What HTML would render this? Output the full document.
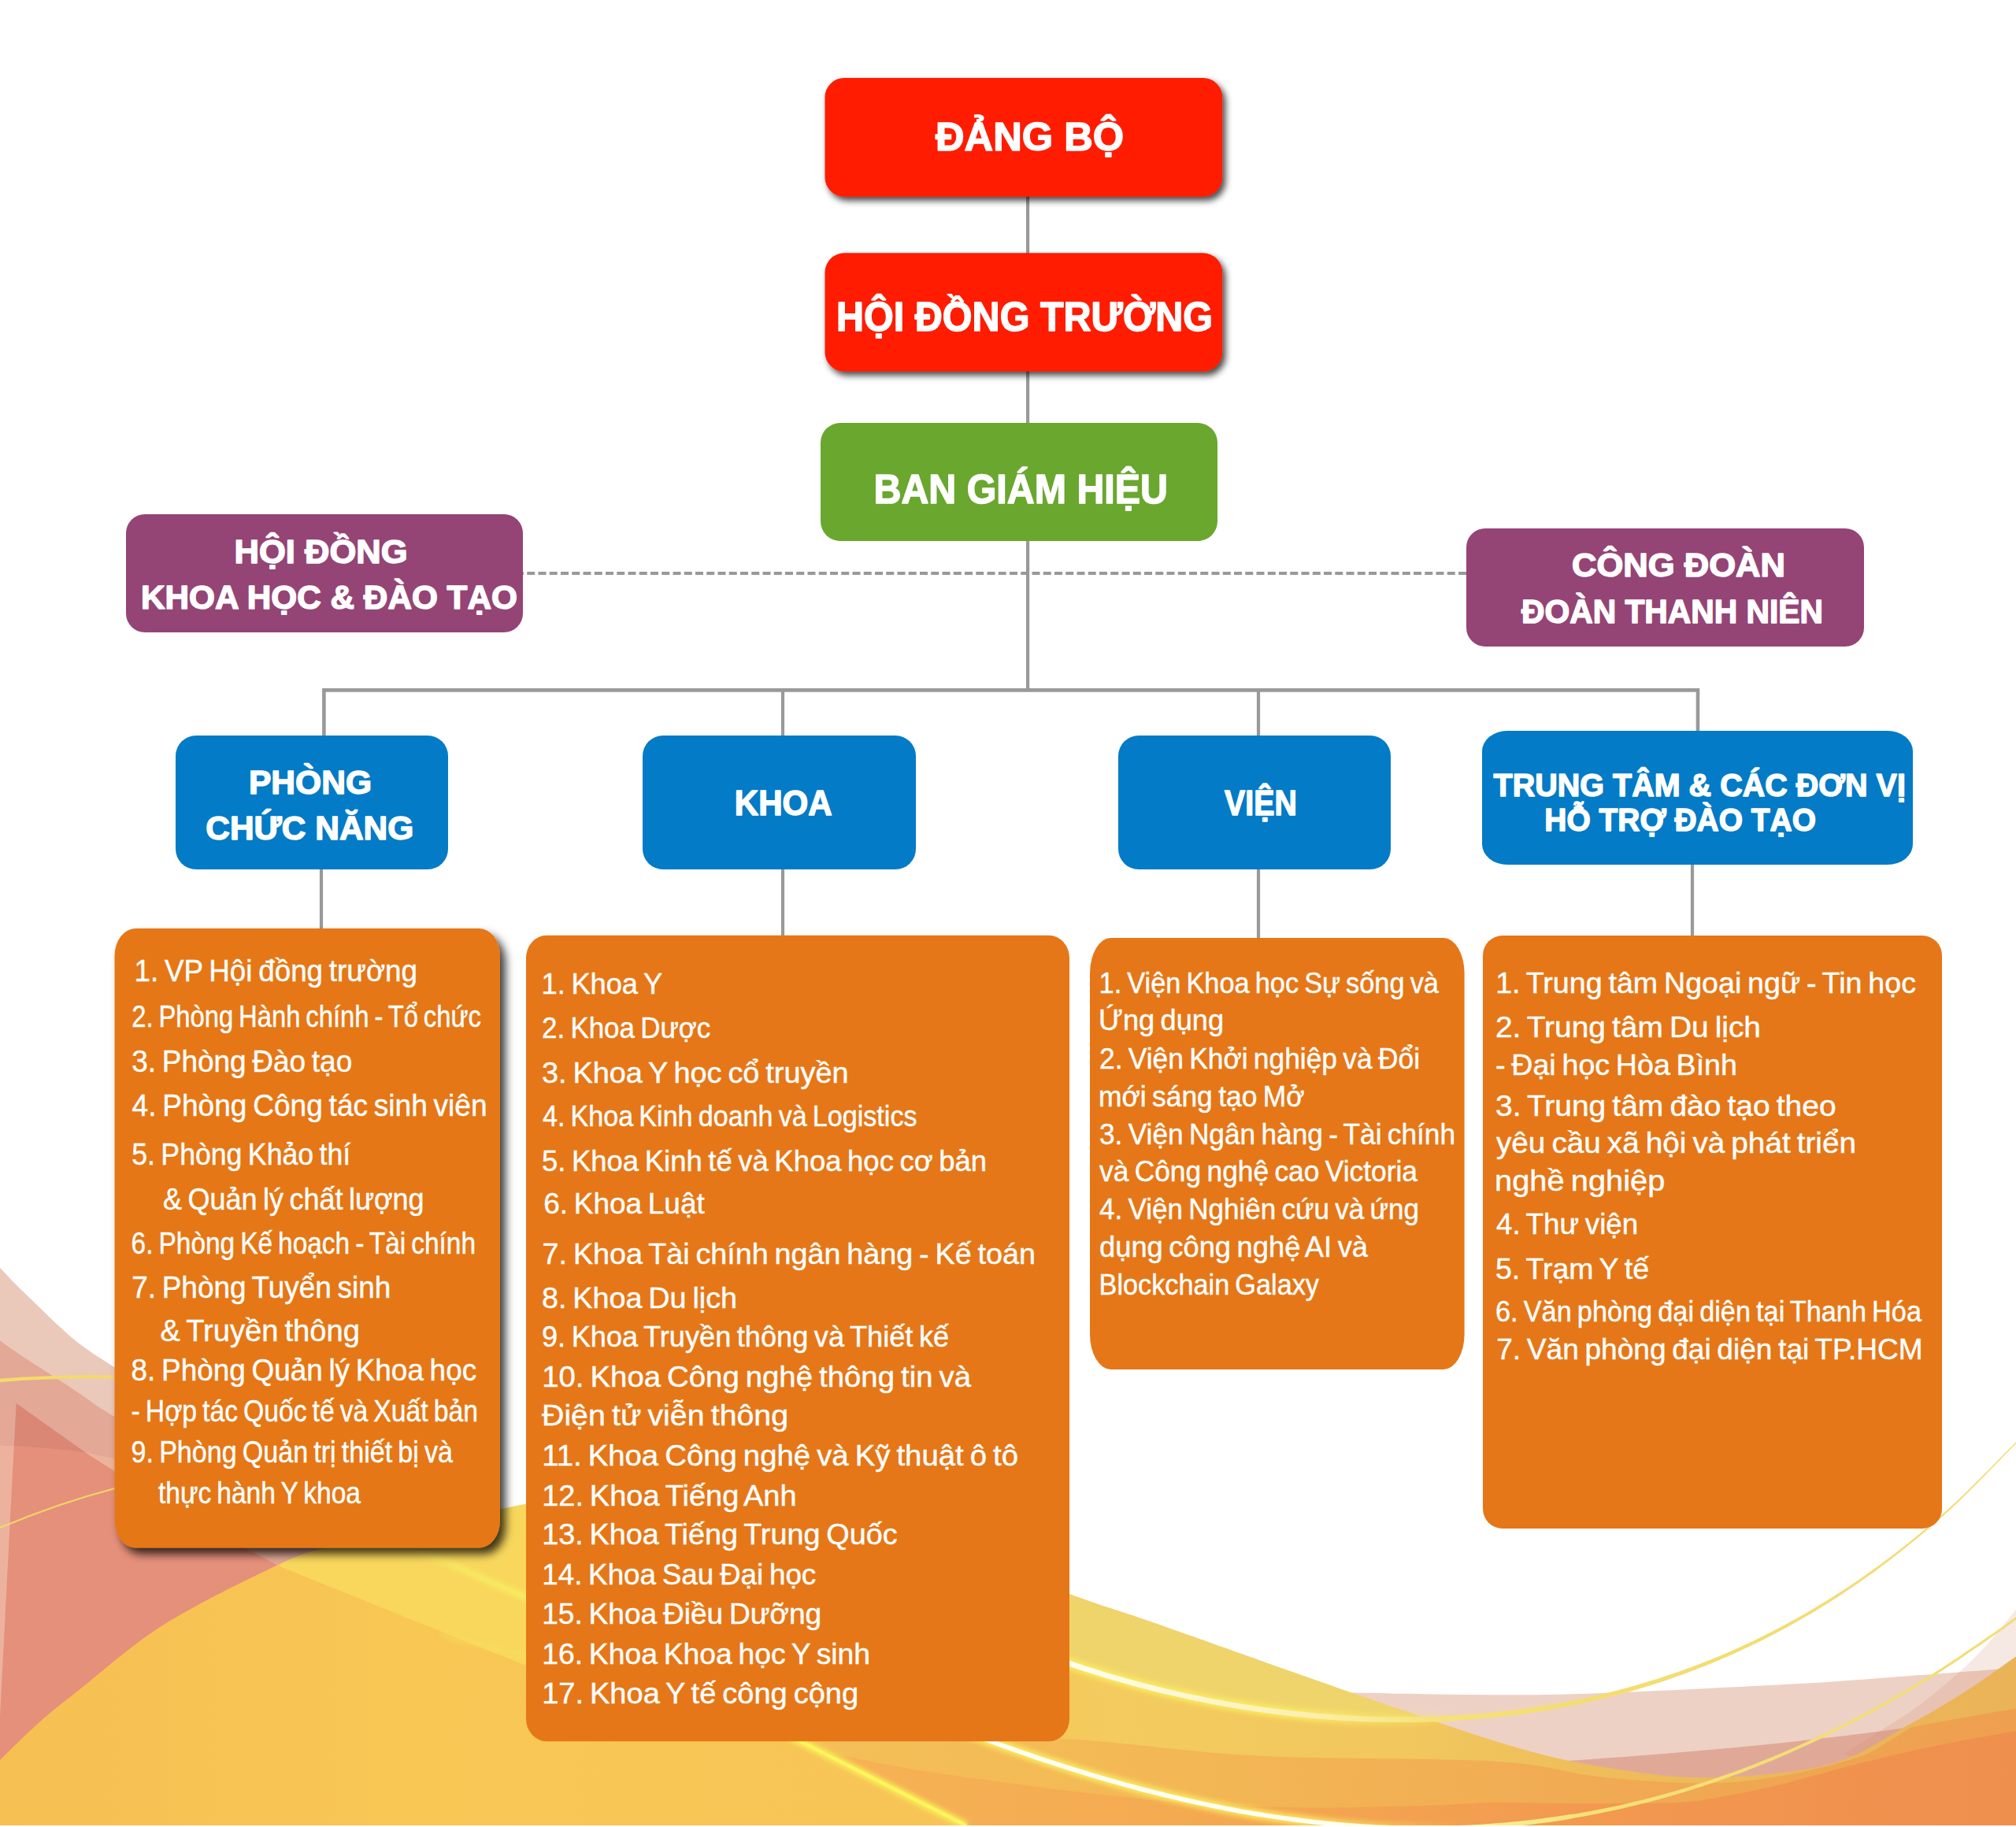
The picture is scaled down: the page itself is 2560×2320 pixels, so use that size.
<!DOCTYPE html>
<html lang="vi"><head><meta charset="utf-8"><title>Sơ đồ tổ chức</title>
<style>html,body{margin:0;padding:0;background:#fff}body{width:2560px;height:2320px;overflow:hidden;font-family:"Liberation Sans",sans-serif}svg{display:block}text{font-family:"Liberation Sans",sans-serif;fill:#fff;white-space:pre}</style>
</head><body>
<svg width="2560" height="2320" viewBox="0 0 2560 2320">
<defs>
<filter id="sh1" x="-10%" y="-20%" width="125%" height="150%"><feDropShadow dx="4" dy="5" stdDeviation="4" flood-color="#000" flood-opacity="0.72"/></filter>
<filter id="sh2" x="-10%" y="-10%" width="125%" height="125%"><feDropShadow dx="7" dy="8" stdDeviation="6" flood-color="#000" flood-opacity="0.76"/></filter>
</defs>
<defs>
<linearGradient id="gY" gradientUnits="userSpaceOnUse" x1="0" y1="0" x2="2560" y2="0"><stop offset="0" stop-color="#F6BF52"/><stop offset="0.2" stop-color="#F8C754"/><stop offset="0.47" stop-color="#F7C556"/><stop offset="0.55" stop-color="#F3CB5E"/><stop offset="0.7" stop-color="#F1C75E"/><stop offset="0.8" stop-color="#EEBC5A"/><stop offset="1" stop-color="#EAB357"/></linearGradient>
<linearGradient id="gM" gradientUnits="userSpaceOnUse" x1="1000" y1="0" x2="2560" y2="0"><stop offset="0" stop-color="#F4C058"/><stop offset="0.3" stop-color="#F3B855"/><stop offset="0.65" stop-color="#F1AB53"/><stop offset="1" stop-color="#EE9F50"/></linearGradient>
<linearGradient id="gO" gradientUnits="userSpaceOnUse" x1="1000" y1="0" x2="2560" y2="0"><stop offset="0" stop-color="#F6B355"/><stop offset="0.35" stop-color="#F4A951"/><stop offset="0.7" stop-color="#F2974F"/><stop offset="1" stop-color="#EF8F4E"/></linearGradient>
<linearGradient id="gL1" gradientUnits="userSpaceOnUse" x1="500" y1="0" x2="2560" y2="0"><stop offset="0.3" stop-color="#FFFFF4"/><stop offset="0.42" stop-color="#FFFEF0"/><stop offset="0.5" stop-color="#FDF6CC"/><stop offset="0.56" stop-color="#FBF0B0"/><stop offset="0.6" stop-color="#F8EA96"/><stop offset="0.64" stop-color="#F5E27A"/><stop offset="0.72" stop-color="#F3DD72"/><stop offset="1" stop-color="#F3DC72"/></linearGradient>
<linearGradient id="gL2" gradientUnits="userSpaceOnUse" x1="500" y1="0" x2="2560" y2="0"><stop offset="0.3" stop-color="#FFFFF8"/><stop offset="0.58" stop-color="#FFFEF0"/><stop offset="0.68" stop-color="#F8EE90"/><stop offset="0.74" stop-color="#F4E076"/><stop offset="1" stop-color="#F3DC72"/></linearGradient>
<linearGradient id="gG" gradientUnits="userSpaceOnUse" x1="500" y1="0" x2="2560" y2="0"><stop offset="0.3" stop-color="#FCF060" stop-opacity="0.95"/><stop offset="0.56" stop-color="#FCEE60" stop-opacity="0.9"/><stop offset="0.66" stop-color="#FCEE60" stop-opacity="0"/></linearGradient>
<linearGradient id="gS1" gradientUnits="userSpaceOnUse" x1="520" y1="0" x2="680" y2="0"><stop offset="0" stop-color="#F7EE62" stop-opacity="0"/><stop offset="0.45" stop-color="#F7EE62" stop-opacity="0.8"/><stop offset="1" stop-color="#F8F060" stop-opacity="1"/></linearGradient>
<filter id="bl3" x="-5%" y="-50%" width="110%" height="200%"><feGaussianBlur stdDeviation="3"/></filter>
</defs>
<g id="bg">
<path d="M0.0 1610.0C4.2 1614.3 16.5 1627.5 25.0 1636.0C33.5 1644.5 42.5 1652.8 51.0 1661.0C59.5 1669.2 67.5 1677.3 76.0 1685.0C84.5 1692.7 90.3 1698.5 101.8 1707.0C113.3 1715.5 118.6 1719.2 145.0 1736.0C171.4 1752.8 214.2 1780.7 260.0 1808.0C305.8 1835.3 356.7 1866.3 420.0 1900.0C483.3 1933.7 603.3 1991.7 640.0 2010.0L640.0 2318L0.0 2318Z" fill="#EAC8BA"/>
<path d="M0.0 1702.5C5.7 1706.4 22.7 1718.5 34.0 1726.0C45.3 1733.5 56.0 1740.0 68.0 1747.8C80.0 1755.6 93.2 1764.5 106.0 1773.0C118.8 1781.5 112.7 1779.2 145.0 1798.7C177.3 1818.2 240.8 1857.3 300.0 1890.0C359.2 1922.7 466.7 1977.5 500.0 1995.0L500.0 2318L0.0 2318Z" fill="#E3A896"/>
<path d="M0 1835L68 1840L108.6 1844.5L145 1868L312 1966L355 1989L700 2200L0 2320Z" fill="#E5907A"/>
<path d="M20.7 1782L84.8 1827.5L108.6 1844.5L68 1840L17.8 1836.3Z" fill="#DB8776"/>
<path d="M0 1835L17.8 1836.3L14.4 1900L0 2180Z" fill="#ECB29E"/>
<path d="M108.6 1844.5L146 1852L146 1868.6Z" fill="#EDB29B"/>
<path d="M0 1753C40 1749.5 85 1747.6 146 1748.6" stroke="#F3DB6C" stroke-width="4.4" fill="none"/>
<path d="M0 1940C50 1919 100 1902 146 1890" stroke="#F3D666" stroke-width="2.2" fill="none"/>
<path d="M1700.0 2149.0C1743.3 2149.5 1867.2 2153.6 1960.0 2152.0C2052.8 2150.4 2183.7 2143.2 2257.0 2139.5C2330.3 2135.8 2349.5 2133.6 2400.0 2130.0C2450.5 2126.4 2533.3 2120.0 2560.0 2118.0L2560.0 2318L1700.0 2318Z" fill="#EED1C5"/>
<path d="M1960 2238Q2250 2219 2430 2192.5L2560 2176L2560 2320L1960 2320Z" fill="#E0A997"/>
<path d="M2560.0 2044.0C2554.2 2050.9 2537.7 2072.3 2525.5 2085.7C2513.3 2099.1 2501.7 2111.0 2486.8 2124.4C2471.9 2137.8 2450.5 2155.1 2436.0 2166.0C2421.5 2176.9 2416.0 2179.7 2400.0 2190.0C2384.0 2200.3 2350.0 2221.7 2340.0 2228.0L2560 2260Z" fill="#D48C70" opacity="0.2"/>
<path d="M0.0 2235.0C8.3 2227.0 32.7 2202.3 50.0 2187.0C67.3 2171.7 77.7 2163.7 104.0 2143.0C130.3 2122.3 167.5 2088.5 208.0 2063.0C248.5 2037.5 312.2 2006.5 347.0 1990.0C381.8 1973.5 384.7 1973.2 417.0 1964.0C449.3 1954.8 499.3 1944.0 541.0 1935.0C582.7 1926.0 623.8 1919.2 667.0 1910.0C710.2 1900.8 760.8 1887.0 800.0 1880.0C839.2 1873.0 867.0 1864.7 902.0 1868.0C937.0 1871.3 934.2 1874.0 1010.0 1900.0C1085.8 1926.0 1281.5 1997.3 1357.0 2024.0C1432.5 2050.7 1403.7 2039.3 1463.0 2060.0C1522.3 2080.7 1635.3 2121.7 1713.0 2148.4C1790.7 2175.1 1870.7 2203.4 1929.0 2220.0C1987.3 2236.6 2021.5 2241.8 2063.0 2248.0C2104.5 2254.2 2134.3 2258.3 2178.0 2257.0C2221.7 2255.7 2284.0 2251.2 2325.0 2240.0C2366.0 2228.8 2395.6 2205.3 2424.0 2190.0C2452.4 2174.7 2473.0 2162.4 2495.7 2148.0C2518.4 2133.6 2549.3 2111.0 2560.0 2103.6L2560.0 2318L0.0 2318Z" fill="url(#gY)"/>
<clipPath id="cY"><path d="M0.0 2235.0C8.3 2227.0 32.7 2202.3 50.0 2187.0C67.3 2171.7 77.7 2163.7 104.0 2143.0C130.3 2122.3 167.5 2088.5 208.0 2063.0C248.5 2037.5 312.2 2006.5 347.0 1990.0C381.8 1973.5 384.7 1973.2 417.0 1964.0C449.3 1954.8 499.3 1944.0 541.0 1935.0C582.7 1926.0 623.8 1919.2 667.0 1910.0C710.2 1900.8 760.8 1887.0 800.0 1880.0C839.2 1873.0 867.0 1864.7 902.0 1868.0C937.0 1871.3 934.2 1874.0 1010.0 1900.0C1085.8 1926.0 1281.5 1997.3 1357.0 2024.0C1432.5 2050.7 1403.7 2039.3 1463.0 2060.0C1522.3 2080.7 1635.3 2121.7 1713.0 2148.4C1790.7 2175.1 1870.7 2203.4 1929.0 2220.0C1987.3 2236.6 2021.5 2241.8 2063.0 2248.0C2104.5 2254.2 2134.3 2258.3 2178.0 2257.0C2221.7 2255.7 2284.0 2251.2 2325.0 2240.0C2366.0 2228.8 2395.6 2205.3 2424.0 2190.0C2452.4 2174.7 2473.0 2162.4 2495.7 2148.0C2518.4 2133.6 2549.3 2111.0 2560.0 2103.6L2560.0 2318L0.0 2318Z"/></clipPath>
<clipPath id="cS"><path d="M1000 2203L1227 2318L2560 2318L2560 1800L1000 1800Z"/></clipPath>
<g clip-path="url(#cY)">
<path d="M355 1989L700 2128L700 1850L400 1900Z" fill="#F8D75C"/>
<path d="M1300 1990L1930 1990L1930 2178L1920.0 2175.1L1840.0 2182.1L1760.0 2183.5L1680.0 2179.6L1600.0 2170.7L1520.0 2156.6L1440.0 2137.5L1360.0 2113.0L1300 2100Z" fill="#EFD46B"/>
<g clip-path="url(#cS)"><path d="M1000.0 2190.0C1058.5 2193.0 1251.5 2201.2 1351.0 2207.8C1450.5 2214.4 1505.5 2224.8 1597.0 2229.6C1688.5 2234.4 1827.8 2232.3 1900.0 2236.7C1972.2 2241.1 1986.3 2251.4 2030.0 2256.0C2073.7 2260.6 2123.7 2264.6 2162.0 2264.5C2200.3 2264.4 2227.2 2261.0 2260.0 2255.6C2292.8 2250.2 2334.3 2239.9 2358.5 2231.8C2382.7 2223.7 2393.5 2213.5 2405.0 2207.0C2416.5 2200.5 2423.8 2195.3 2427.5 2193.0L2560 2169.4L2560 2318L1000 2318Z" fill="url(#gM)"/>
<path d="M1000.0 2215.0C1012.0 2217.5 1038.7 2223.7 1072.0 2230.0C1105.3 2236.3 1139.0 2244.2 1200.0 2253.0C1261.0 2261.8 1365.3 2276.0 1438.0 2283.0C1510.7 2290.0 1575.7 2293.3 1636.0 2295.0C1696.3 2296.7 1756.0 2294.0 1800.0 2293.0C1844.0 2292.0 1866.7 2289.5 1900.0 2289.0C1933.3 2288.5 1961.8 2290.0 2000.0 2290.0C2038.2 2290.0 2095.7 2290.8 2129.0 2289.0C2162.3 2287.2 2178.2 2282.8 2200.0 2279.0C2221.8 2275.2 2233.6 2272.8 2260.0 2266.3C2286.4 2259.8 2325.7 2248.2 2358.5 2240.0C2391.3 2231.8 2423.4 2224.0 2457.0 2217.0C2490.6 2210.0 2542.8 2201.2 2560.0 2198.0L2560.0 2318L1000.0 2318Z" fill="url(#gO)"/></g>
<path d="M1000 2203L1227 2318" stroke="#FBF25A" stroke-width="9" fill="none" filter="url(#bl3)"/>
<path d="M1010 2208L1227 2318" stroke="#FCF75C" stroke-width="4" fill="none"/>
<path d="M520 1964L690 2038" stroke="url(#gS1)" stroke-width="8" fill="none" filter="url(#bl3)"/>
<path d="M560 2076L690 2108" stroke="#F9E060" stroke-opacity="0.5" stroke-width="6" fill="none" filter="url(#bl3)"/>
</g>
<path d="M1277.5 2089.4L1281.4 2090.8L1286.2 2092.7L1291.9 2094.9L1298.2 2097.4L1305.2 2100.0L1312.5 2102.9L1320.2 2105.8L1327.9 2108.7L1335.7 2111.7L1343.4 2114.5L1350.8 2117.1L1357.8 2119.5L1364.5 2121.8L1371.2 2124.0L1377.9 2126.2L1384.6 2128.4L1391.3 2130.5L1398.0 2132.5L1404.7 2134.6L1411.4 2136.5L1418.1 2138.5L1424.8 2140.4L1431.5 2142.3L1438.2 2144.1L1444.9 2145.9L1451.6 2147.7L1458.3 2149.4L1465.0 2151.1L1471.7 2152.8L1478.4 2154.4L1485.1 2156.0L1491.8 2157.5L1498.5 2159.1L1505.2 2160.5L1511.9 2162.0L1518.6 2163.4L1525.3 2164.7L1532.0 2166.1L1538.7 2167.4L1545.4 2168.6L1552.1 2169.9L1558.8 2171.1L1565.5 2172.2L1572.2 2173.3L1578.9 2174.4L1585.6 2175.5L1592.3 2176.5L1599.0 2177.5L1605.7 2178.4L1612.4 2179.3L1619.1 2180.2L1625.8 2181.1L1632.5 2181.9L1639.2 2182.6L1645.9 2183.4L1652.6 2184.1L1659.3 2184.7L1666.0 2185.4L1672.7 2186.0L1679.4 2186.5L1686.1 2187.0L1692.8 2187.5L1699.6 2188.0L1706.3 2188.4L1713.0 2188.8L1719.7 2189.1L1726.4 2189.4L1733.1 2189.7L1739.8 2190.0L1746.5 2190.2L1753.2 2190.3L1759.9 2190.4L1766.6 2190.5L1773.3 2190.6L1780.0 2190.6L1786.7 2190.6L1793.4 2190.5L1800.1 2190.4L1806.8 2190.3L1813.5 2190.1L1820.2 2189.9L1826.9 2189.7L1833.7 2189.4L1840.4 2189.0L1847.1 2188.7L1853.8 2188.2L1860.5 2187.8L1867.2 2187.3L1873.9 2186.8L1880.6 2186.2L1887.3 2185.6L1894.0 2185.0L1900.7 2184.3L1907.4 2183.6L1914.2 2182.8L1920.9 2182.0L1927.6 2181.1L1934.3 2180.2L1941.0 2179.2L1947.7 2178.3L1954.4 2177.2L1961.1 2176.0L1967.8 2174.9L1974.5 2173.7L1981.2 2172.4L1987.9 2171.1L1994.6 2169.8L2001.3 2168.4L2008.0 2167.0L2014.7 2165.5L2021.4 2164.0L2028.1 2162.4L2034.8 2160.8L2041.5 2159.2L2048.2 2157.5L2054.9 2155.7L2061.6 2153.9L2068.4 2152.0L2075.1 2150.1L2081.8 2148.1L2088.5 2146.1L2095.2 2144.0L2101.9 2141.9L2108.6 2139.7L2115.3 2137.5L2122.0 2135.3L2128.7 2132.9L2135.4 2130.5L2142.1 2128.1L2148.8 2125.6L2155.5 2123.0L2162.2 2120.4L2168.8 2117.7L2175.5 2115.0L2182.2 2112.2L2188.9 2109.3L2195.6 2106.4L2202.3 2103.4L2209.0 2100.4L2215.7 2097.3L2222.4 2094.2L2229.1 2090.9L2235.8 2087.7L2242.5 2084.3L2249.2 2080.9L2255.9 2077.4L2262.6 2073.8L2269.3 2070.2L2275.9 2066.6L2282.6 2062.8L2289.3 2059.0L2296.0 2055.1L2302.7 2051.2L2309.4 2047.2L2316.1 2043.1L2322.8 2038.9L2329.5 2034.6L2336.1 2030.3L2342.8 2025.9L2349.5 2021.5L2356.2 2016.9L2362.9 2012.3L2369.5 2007.7L2376.2 2002.9L2382.9 1998.1L2389.6 1993.1L2396.3 1988.1L2403.0 1983.0L2409.6 1977.8L2416.3 1972.6L2423.0 1967.3L2429.7 1961.8L2436.3 1956.4L2443.0 1950.8L2449.7 1945.1L2456.4 1939.4L2463.0 1933.5L2469.7 1927.6L2476.4 1921.6L2483.1 1915.4L2490.0 1908.9L2497.4 1901.8L2505.0 1894.3L2512.7 1886.6L2520.4 1878.8L2528.0 1871.0L2535.3 1863.5L2542.2 1856.4L2548.5 1849.8L2554.2 1843.9L2559.1 1838.9L2563.0 1834.9L2565.9 1832.0L2567.9 1830.0L2569.0 1828.8L2569.6 1828.2L2563.6 1822.3L2563.1 1822.8L2562.3 1823.6L2561.4 1824.4L2560.5 1825.3L2559.7 1826.1L2559.2 1826.6L2559.1 1826.7L2564.9 1832.8L2565.1 1832.6L2565.6 1832.1L2566.4 1831.3L2567.3 1830.4L2568.2 1829.6L2568.9 1828.8L2569.3 1828.5L2563.4 1822.5L2563.0 1822.9L2561.9 1824.1L2559.9 1826.1L2557.0 1829.0L2553.1 1833.0L2548.1 1838.0L2542.4 1843.8L2536.0 1850.4L2529.1 1857.5L2521.8 1864.9L2514.2 1872.6L2506.4 1880.3L2498.7 1888.0L2491.1 1895.4L2483.8 1902.4L2476.9 1908.8L2470.3 1914.8L2463.6 1920.7L2457.0 1926.6L2450.3 1932.3L2443.6 1938.0L2437.0 1943.6L2430.3 1949.0L2423.7 1954.4L2417.0 1959.8L2410.4 1965.0L2403.7 1970.2L2397.0 1975.3L2390.4 1980.3L2383.7 1985.2L2377.1 1990.0L2370.4 1994.8L2363.8 1999.4L2357.1 2004.0L2350.5 2008.5L2343.8 2013.0L2337.2 2017.3L2330.5 2021.6L2323.9 2025.9L2317.2 2030.0L2310.6 2034.1L2303.9 2038.1L2297.3 2042.1L2290.7 2045.9L2284.0 2049.7L2277.4 2053.4L2270.7 2057.1L2264.1 2060.6L2257.4 2064.2L2250.8 2067.6L2244.1 2071.0L2237.5 2074.4L2230.9 2077.6L2224.2 2080.8L2217.6 2084.0L2211.0 2087.0L2204.3 2090.0L2197.7 2093.0L2191.0 2095.8L2184.4 2098.7L2177.8 2101.4L2171.1 2104.1L2164.5 2106.8L2157.8 2109.4L2151.2 2111.9L2144.6 2114.4L2137.9 2116.8L2131.3 2119.2L2124.7 2121.5L2118.0 2123.8L2111.4 2125.9L2104.8 2128.1L2098.1 2130.2L2091.5 2132.2L2084.9 2134.2L2078.2 2136.2L2071.6 2138.1L2065.0 2139.9L2058.4 2141.7L2051.7 2143.4L2045.1 2145.1L2038.5 2146.7L2031.8 2148.3L2025.2 2149.8L2018.6 2151.3L2011.9 2152.8L2005.3 2154.2L1998.7 2155.5L1992.0 2156.8L1985.4 2158.1L1978.8 2159.3L1972.2 2160.5L1965.5 2161.6L1958.9 2162.7L1952.3 2163.6L1945.6 2164.6L1939.0 2165.6L1932.4 2166.5L1925.8 2167.4L1919.1 2168.3L1912.5 2169.1L1905.9 2169.8L1899.3 2170.6L1892.6 2171.2L1886.0 2171.9L1879.4 2172.5L1872.8 2173.0L1866.1 2173.6L1859.5 2174.0L1852.9 2174.5L1846.3 2174.9L1839.6 2175.2L1833.0 2175.6L1826.4 2175.9L1819.8 2176.1L1813.1 2176.3L1806.5 2176.5L1799.9 2176.6L1793.3 2176.7L1786.6 2176.8L1780.0 2176.8L1773.4 2176.8L1766.7 2176.7L1760.1 2176.6L1753.5 2176.5L1746.9 2176.4L1740.2 2176.2L1733.6 2175.9L1727.0 2175.7L1720.3 2175.4L1713.7 2175.0L1707.1 2174.6L1700.4 2174.2L1693.8 2173.8L1687.2 2173.3L1680.6 2172.8L1673.9 2172.2L1667.3 2171.6L1660.7 2171.0L1654.0 2170.3L1647.4 2169.7L1640.8 2168.9L1634.1 2168.2L1627.5 2167.4L1620.9 2166.5L1614.2 2165.7L1607.6 2164.8L1601.0 2163.8L1594.4 2162.8L1587.7 2161.8L1581.1 2160.8L1574.5 2159.7L1567.8 2158.6L1561.2 2157.5L1554.6 2156.3L1547.9 2155.1L1541.3 2153.8L1534.7 2152.5L1528.0 2151.2L1521.4 2149.9L1514.8 2148.5L1508.1 2147.0L1501.5 2145.6L1494.9 2144.1L1488.2 2142.6L1481.6 2141.0L1475.0 2139.4L1468.3 2137.7L1461.7 2136.1L1455.1 2134.4L1448.4 2132.6L1441.8 2130.8L1435.2 2129.0L1428.5 2127.1L1421.9 2125.2L1415.3 2123.3L1408.6 2121.3L1402.0 2119.3L1395.4 2117.3L1388.8 2115.2L1382.1 2113.1L1375.5 2110.9L1368.9 2108.7L1362.2 2106.5L1355.4 2104.1L1348.1 2101.5L1340.5 2098.7L1332.8 2095.8L1325.1 2092.9L1317.5 2090.0L1310.1 2087.2L1303.2 2084.5L1296.9 2082.0L1291.2 2079.8L1286.3 2077.9L1282.5 2076.5Z" fill="url(#gG)" filter="url(#bl3)"/>
<path d="M1278.8 2086.1L1282.6 2087.6L1287.5 2089.4L1293.1 2091.6L1299.5 2094.1L1306.4 2096.8L1313.8 2099.6L1321.4 2102.5L1329.2 2105.5L1336.9 2108.4L1344.6 2111.2L1351.9 2113.8L1358.9 2116.2L1365.6 2118.5L1372.3 2120.7L1379.0 2122.9L1385.6 2125.0L1392.3 2127.1L1399.0 2129.2L1405.7 2131.2L1412.4 2133.2L1419.1 2135.1L1425.7 2137.0L1432.4 2138.9L1439.1 2140.8L1445.8 2142.6L1452.5 2144.3L1459.2 2146.0L1465.8 2147.7L1472.5 2149.4L1479.2 2151.0L1485.9 2152.6L1492.6 2154.1L1499.3 2155.6L1505.9 2157.1L1512.6 2158.5L1519.3 2159.9L1526.0 2161.3L1532.7 2162.6L1539.4 2163.9L1546.0 2165.2L1552.7 2166.4L1559.4 2167.6L1566.1 2168.8L1572.8 2169.9L1579.5 2171.0L1586.1 2172.0L1592.8 2173.0L1599.5 2174.0L1606.2 2175.0L1612.9 2175.9L1619.6 2176.7L1626.3 2177.6L1632.9 2178.4L1639.6 2179.2L1646.3 2179.9L1653.0 2180.6L1659.7 2181.3L1666.4 2181.9L1673.0 2182.5L1679.7 2183.0L1686.4 2183.6L1693.1 2184.0L1699.8 2184.5L1706.5 2184.9L1713.1 2185.3L1719.8 2185.6L1726.5 2185.9L1733.2 2186.2L1739.9 2186.5L1746.6 2186.7L1753.3 2186.8L1759.9 2186.9L1766.6 2187.0L1773.3 2187.1L1780.0 2187.1L1786.7 2187.1L1793.4 2187.0L1800.1 2186.9L1806.7 2186.8L1813.4 2186.6L1820.1 2186.4L1826.8 2186.2L1833.5 2185.9L1840.2 2185.5L1846.9 2185.2L1853.5 2184.8L1860.2 2184.3L1866.9 2183.8L1873.6 2183.3L1880.3 2182.7L1887.0 2182.1L1893.7 2181.5L1900.4 2180.8L1907.0 2180.1L1913.7 2179.3L1920.4 2178.5L1927.1 2177.6L1933.8 2176.7L1940.5 2175.8L1947.2 2174.8L1953.9 2173.8L1960.5 2172.5L1967.2 2171.4L1973.9 2170.2L1980.6 2169.0L1987.3 2167.7L1993.9 2166.4L2000.6 2165.0L2007.3 2163.6L2014.0 2162.1L2020.7 2160.6L2027.3 2159.0L2034.0 2157.4L2040.7 2155.8L2047.4 2154.1L2054.1 2152.3L2060.7 2150.5L2067.4 2148.7L2074.1 2146.7L2080.8 2144.8L2087.4 2142.8L2094.1 2140.7L2100.8 2138.6L2107.5 2136.4L2114.2 2134.2L2120.8 2131.9L2127.5 2129.6L2134.2 2127.2L2140.9 2124.8L2147.5 2122.3L2154.2 2119.7L2160.9 2117.1L2167.5 2114.4L2174.2 2111.7L2180.9 2108.9L2187.6 2106.1L2194.2 2103.2L2200.9 2100.2L2207.6 2097.2L2214.2 2094.1L2220.9 2091.0L2227.6 2087.8L2234.3 2084.5L2240.9 2081.2L2247.6 2077.8L2254.3 2074.3L2260.9 2070.8L2267.6 2067.2L2274.3 2063.5L2280.9 2059.8L2287.6 2056.0L2294.3 2052.1L2300.9 2048.2L2307.6 2044.2L2314.2 2040.1L2320.9 2035.9L2327.6 2031.7L2334.2 2027.4L2340.9 2023.0L2347.6 2018.6L2354.2 2014.0L2360.9 2009.5L2367.5 2004.8L2374.2 2000.0L2380.9 1995.2L2387.5 1990.3L2394.2 1985.3L2400.8 1980.2L2407.5 1975.1L2414.2 1969.8L2420.8 1964.5L2427.5 1959.1L2434.1 1953.7L2440.8 1948.1L2447.4 1942.5L2454.1 1936.7L2460.7 1930.9L2467.4 1925.0L2474.1 1919.0L2480.7 1912.9L2487.6 1906.4L2494.9 1899.3L2502.5 1891.8L2510.2 1884.1L2517.9 1876.3L2525.5 1868.6L2532.8 1861.0L2539.7 1853.9L2546.0 1847.3L2551.7 1841.4L2556.6 1836.4L2560.5 1832.4L2563.4 1829.5L2565.4 1827.5L2566.5 1826.3L2567.0 1825.8L2566.0 1824.9L2565.5 1825.3L2564.8 1826.1L2563.9 1826.9L2563.0 1827.8L2562.2 1828.6L2561.7 1829.1L2561.5 1829.2L2562.5 1830.3L2562.6 1830.1L2563.2 1829.6L2564.0 1828.8L2564.9 1827.9L2565.7 1827.1L2566.5 1826.3L2566.9 1825.9L2566.0 1824.9L2565.5 1825.4L2564.4 1826.5L2562.4 1828.5L2559.5 1831.4L2555.6 1835.4L2550.7 1840.4L2544.9 1846.3L2538.5 1852.8L2531.6 1859.9L2524.3 1867.4L2516.7 1875.1L2508.9 1882.8L2501.2 1890.5L2493.6 1897.9L2486.2 1904.9L2479.3 1911.3L2472.6 1917.4L2465.9 1923.3L2459.3 1929.2L2452.6 1935.0L2445.9 1940.7L2439.2 1946.2L2432.5 1951.7L2425.9 1957.2L2419.2 1962.5L2412.5 1967.8L2405.8 1972.9L2399.2 1978.0L2392.5 1983.1L2385.8 1988.0L2379.1 1992.8L2372.5 1997.6L2365.8 2002.3L2359.1 2006.9L2352.4 2011.4L2345.8 2015.9L2339.1 2020.3L2332.4 2024.6L2325.8 2028.8L2319.1 2033.0L2312.4 2037.1L2305.7 2041.1L2299.1 2045.1L2292.4 2048.9L2285.7 2052.7L2279.1 2056.5L2272.4 2060.1L2265.7 2063.7L2259.1 2067.3L2252.4 2070.7L2245.7 2074.1L2239.1 2077.5L2232.4 2080.8L2225.7 2084.0L2219.1 2087.1L2212.4 2090.2L2205.8 2093.2L2199.1 2096.2L2192.4 2099.1L2185.8 2101.9L2179.1 2104.7L2172.4 2107.4L2165.8 2110.0L2159.1 2112.7L2152.5 2115.2L2145.8 2117.7L2139.1 2120.1L2132.5 2122.5L2125.8 2124.8L2119.2 2127.1L2112.5 2129.3L2105.9 2131.4L2099.2 2133.5L2092.5 2135.6L2085.9 2137.6L2079.2 2139.5L2072.6 2141.4L2065.9 2143.3L2059.3 2145.1L2052.6 2146.8L2046.0 2148.5L2039.3 2150.1L2032.6 2151.7L2026.0 2153.2L2019.3 2154.7L2012.7 2156.2L2006.0 2157.6L1999.4 2159.0L1992.7 2160.3L1986.1 2161.5L1979.4 2162.8L1972.8 2163.9L1966.1 2165.1L1959.5 2166.1L1952.8 2167.0L1946.2 2168.1L1939.5 2169.0L1932.9 2170.0L1926.2 2170.9L1919.6 2171.7L1912.9 2172.5L1906.3 2173.3L1899.6 2174.0L1893.0 2174.7L1886.4 2175.4L1879.7 2176.0L1873.1 2176.5L1866.4 2177.0L1859.8 2177.5L1853.1 2178.0L1846.5 2178.4L1839.8 2178.7L1833.2 2179.1L1826.5 2179.4L1819.9 2179.6L1813.2 2179.8L1806.6 2180.0L1799.9 2180.1L1793.3 2180.2L1786.6 2180.3L1780.0 2180.3L1773.4 2180.3L1766.7 2180.2L1760.1 2180.1L1753.4 2180.0L1746.8 2179.9L1740.1 2179.7L1733.5 2179.4L1726.8 2179.2L1720.2 2178.8L1713.5 2178.5L1706.9 2178.1L1700.2 2177.7L1693.6 2177.3L1686.9 2176.8L1680.3 2176.3L1673.6 2175.7L1667.0 2175.1L1660.3 2174.5L1653.7 2173.8L1647.0 2173.1L1640.4 2172.4L1633.7 2171.6L1627.1 2170.8L1620.4 2170.0L1613.8 2169.1L1607.1 2168.2L1600.5 2167.3L1593.8 2166.3L1587.2 2165.3L1580.5 2164.3L1573.9 2163.2L1567.2 2162.1L1560.6 2160.9L1553.9 2159.7L1547.3 2158.5L1540.6 2157.3L1534.0 2156.0L1527.3 2154.6L1520.7 2153.3L1514.0 2151.9L1507.4 2150.5L1500.7 2149.0L1494.1 2147.5L1487.4 2146.0L1480.8 2144.4L1474.1 2142.8L1467.5 2141.1L1460.8 2139.5L1454.2 2137.7L1447.5 2136.0L1440.9 2134.2L1434.2 2132.4L1427.6 2130.5L1420.9 2128.6L1414.3 2126.7L1407.6 2124.7L1401.0 2122.7L1394.3 2120.6L1387.7 2118.5L1381.0 2116.4L1374.4 2114.3L1367.7 2112.1L1361.1 2109.8L1354.2 2107.4L1346.9 2104.8L1339.3 2102.0L1331.6 2099.1L1323.8 2096.2L1316.2 2093.3L1308.9 2090.4L1302.0 2087.8L1295.6 2085.3L1289.9 2083.1L1285.1 2081.2L1281.2 2079.7Z" fill="url(#gL1)"/>
<path d="M1177.7 2187.2L1181.6 2188.7L1186.4 2190.6L1192.1 2192.8L1198.4 2195.3L1205.3 2198.0L1212.7 2200.8L1220.3 2203.8L1228.1 2206.7L1235.9 2209.7L1243.5 2212.6L1250.9 2215.3L1257.8 2217.9L1264.5 2220.3L1271.2 2222.7L1277.9 2225.1L1284.5 2227.5L1291.2 2229.8L1297.9 2232.1L1304.6 2234.4L1311.3 2236.7L1318.0 2239.0L1324.6 2241.2L1331.3 2243.4L1338.0 2245.6L1344.7 2247.8L1351.4 2249.9L1358.1 2252.0L1364.8 2254.1L1371.4 2256.2L1378.1 2258.2L1384.8 2260.3L1391.5 2262.3L1398.2 2264.2L1404.9 2266.2L1411.6 2268.1L1418.3 2270.0L1425.0 2271.8L1431.6 2273.7L1438.3 2275.5L1445.0 2277.3L1451.7 2279.0L1458.4 2280.8L1465.1 2282.5L1471.8 2284.2L1478.5 2285.8L1485.2 2287.4L1491.9 2289.0L1498.6 2290.6L1505.3 2292.1L1511.9 2293.6L1518.6 2295.1L1525.3 2296.5L1532.0 2298.0L1538.7 2299.4L1545.4 2300.7L1552.1 2302.0L1558.8 2303.3L1565.5 2304.6L1572.2 2305.8L1578.9 2307.0L1585.6 2308.2L1592.3 2309.4L1599.0 2310.5L1605.7 2311.5L1612.4 2312.6L1619.1 2313.6L1625.8 2314.6L1632.4 2315.5L1639.1 2316.5L1645.8 2317.3L1652.5 2318.2L1659.2 2319.0L1665.9 2319.8L1672.6 2320.5L1679.3 2321.2L1686.0 2321.9L1692.7 2322.6L1699.4 2323.2L1706.1 2323.8L1712.8 2324.3L1719.5 2324.8L1726.2 2325.3L1732.9 2325.7L1739.6 2326.1L1746.3 2326.5L1753.0 2326.8L1759.7 2327.1L1766.4 2327.4L1773.1 2327.6L1779.8 2327.8L1786.5 2327.9L1793.2 2328.0L1799.9 2328.1L1806.7 2328.1L1813.4 2328.1L1820.1 2328.1L1826.8 2328.0L1833.5 2327.9L1840.2 2327.7L1846.9 2327.5L1853.6 2327.3L1860.3 2327.0L1867.0 2326.7L1873.7 2326.4L1880.4 2326.0L1887.1 2325.6L1893.8 2325.1L1900.5 2324.6L1907.2 2324.0L1913.9 2323.5L1920.6 2322.8L1927.3 2322.2L1934.0 2321.5L1940.7 2320.7L1947.4 2319.9L1954.1 2319.1L1960.8 2318.3L1967.5 2317.3L1974.3 2316.4L1981.0 2315.4L1987.7 2314.4L1994.4 2313.3L2001.0 2311.8L2007.7 2310.6L2014.4 2309.4L2021.1 2308.2L2027.8 2306.9L2034.5 2305.5L2041.2 2304.2L2047.9 2302.7L2054.6 2301.3L2061.3 2299.8L2068.0 2298.2L2074.7 2296.6L2081.4 2295.0L2088.1 2293.3L2094.8 2291.6L2101.5 2289.8L2108.2 2288.0L2114.9 2286.2L2121.6 2284.3L2128.3 2282.4L2135.0 2280.4L2141.7 2278.3L2148.4 2276.3L2155.1 2274.2L2161.7 2272.0L2168.4 2269.8L2175.1 2267.6L2181.8 2265.3L2188.5 2262.9L2195.2 2260.6L2201.9 2258.1L2208.6 2255.7L2215.3 2253.2L2222.0 2250.6L2228.7 2248.0L2235.4 2245.3L2242.1 2242.6L2248.8 2239.9L2255.5 2237.1L2262.1 2234.3L2268.8 2231.4L2275.5 2228.5L2282.2 2225.5L2288.9 2222.5L2295.6 2219.5L2302.3 2216.4L2309.0 2213.2L2315.7 2210.0L2322.3 2206.8L2329.0 2203.5L2335.7 2200.1L2342.4 2196.8L2349.1 2193.3L2355.8 2189.9L2362.5 2186.3L2369.2 2182.8L2375.8 2179.2L2382.5 2175.5L2389.2 2171.8L2395.9 2168.0L2402.6 2164.2L2409.3 2160.4L2415.9 2156.5L2422.6 2152.5L2429.3 2148.5L2436.0 2144.5L2442.7 2140.4L2449.4 2136.3L2456.0 2132.1L2462.7 2127.9L2469.6 2123.5L2476.8 2118.7L2484.2 2113.8L2491.6 2108.8L2499.1 2103.7L2506.5 2098.7L2513.6 2093.8L2520.5 2089.0L2526.9 2084.6L2532.8 2080.4L2538.2 2076.7L2542.8 2073.5L2546.8 2070.8L2550.1 2068.4L2553.0 2066.4L2555.3 2064.6L2557.3 2063.2L2559.0 2061.9L2560.3 2060.9L2561.5 2060.0L2562.5 2059.2L2563.3 2058.5L2564.1 2057.9L2564.9 2057.3L2559.1 2049.4L2558.2 2050.1L2557.3 2050.8L2556.4 2051.5L2555.4 2052.3L2554.3 2053.1L2553.0 2054.1L2551.5 2055.3L2549.5 2056.7L2547.2 2058.4L2544.4 2060.4L2541.1 2062.7L2537.2 2065.4L2532.5 2068.6L2527.2 2072.3L2521.2 2076.4L2514.8 2080.8L2507.9 2085.5L2500.8 2090.4L2493.4 2095.4L2486.0 2100.5L2478.6 2105.4L2471.2 2110.3L2464.1 2114.9L2457.3 2119.3L2450.6 2123.5L2444.0 2127.6L2437.3 2131.7L2430.7 2135.7L2424.0 2139.7L2417.4 2143.6L2410.7 2147.5L2404.1 2151.4L2397.4 2155.2L2390.8 2158.9L2384.1 2162.6L2377.5 2166.3L2370.8 2169.9L2364.2 2173.5L2357.5 2177.0L2350.9 2180.4L2344.2 2183.9L2337.6 2187.2L2330.9 2190.6L2324.3 2193.9L2317.7 2197.1L2311.0 2200.3L2304.4 2203.4L2297.7 2206.5L2291.1 2209.6L2284.4 2212.6L2277.8 2215.6L2271.1 2218.5L2264.5 2221.4L2257.9 2224.2L2251.2 2227.0L2244.6 2229.7L2237.9 2232.4L2231.3 2235.0L2224.6 2237.6L2218.0 2240.2L2211.4 2242.7L2204.7 2245.2L2198.1 2247.6L2191.4 2250.0L2184.8 2252.3L2178.2 2254.6L2171.5 2256.8L2164.9 2259.0L2158.3 2261.2L2151.6 2263.3L2145.0 2265.4L2138.3 2267.4L2131.7 2269.4L2125.1 2271.3L2118.4 2273.2L2111.8 2275.1L2105.2 2276.9L2098.5 2278.6L2091.9 2280.3L2085.2 2282.0L2078.6 2283.6L2072.0 2285.2L2065.3 2286.8L2058.7 2288.3L2052.1 2289.8L2045.4 2291.2L2038.8 2292.6L2032.2 2293.9L2025.5 2295.2L2018.9 2296.4L2012.3 2297.7L2005.6 2298.8L1999.0 2300.0L1992.3 2300.7L1985.7 2301.7L1979.0 2302.7L1972.4 2303.7L1965.8 2304.7L1959.2 2305.6L1952.5 2306.4L1945.9 2307.2L1939.3 2308.0L1932.6 2308.7L1926.0 2309.4L1919.4 2310.1L1912.8 2310.7L1906.1 2311.3L1899.5 2311.8L1892.9 2312.3L1886.2 2312.8L1879.6 2313.2L1873.0 2313.6L1866.4 2313.9L1859.7 2314.2L1853.1 2314.5L1846.5 2314.7L1839.8 2314.9L1833.2 2315.1L1826.6 2315.2L1819.9 2315.3L1813.3 2315.3L1806.7 2315.3L1800.1 2315.3L1793.4 2315.2L1786.8 2315.1L1780.2 2315.0L1773.5 2314.8L1766.9 2314.6L1760.3 2314.3L1753.6 2314.0L1747.0 2313.7L1740.4 2313.3L1733.7 2312.9L1727.1 2312.5L1720.5 2312.0L1713.8 2311.5L1707.2 2311.0L1700.6 2310.4L1693.9 2309.8L1687.3 2309.2L1680.7 2308.5L1674.0 2307.8L1667.4 2307.1L1660.8 2306.3L1654.1 2305.5L1647.5 2304.6L1640.9 2303.8L1634.2 2302.9L1627.6 2301.9L1620.9 2300.9L1614.3 2299.9L1607.7 2298.9L1601.0 2297.8L1594.4 2296.7L1587.8 2295.6L1581.1 2294.4L1574.5 2293.3L1567.8 2292.0L1561.2 2290.8L1554.6 2289.5L1547.9 2288.2L1541.3 2286.8L1534.6 2285.4L1528.0 2284.0L1521.4 2282.6L1514.7 2281.1L1508.1 2279.6L1501.4 2278.1L1494.8 2276.6L1488.2 2275.0L1481.5 2273.4L1474.9 2271.7L1468.2 2270.1L1461.6 2268.4L1455.0 2266.7L1448.3 2264.9L1441.7 2263.1L1435.0 2261.3L1428.4 2259.5L1421.7 2257.7L1415.1 2255.8L1408.4 2253.9L1401.8 2251.9L1395.2 2250.0L1388.5 2248.0L1381.9 2246.0L1375.2 2244.0L1368.6 2241.9L1361.9 2239.8L1355.3 2237.7L1348.6 2235.6L1342.0 2233.4L1335.3 2231.3L1328.7 2229.1L1322.0 2226.9L1315.4 2224.6L1308.7 2222.3L1302.1 2220.0L1295.4 2217.7L1288.8 2215.4L1282.1 2213.0L1275.5 2210.7L1268.8 2208.3L1262.2 2205.9L1255.3 2203.3L1248.0 2200.6L1240.4 2197.7L1232.7 2194.8L1224.9 2191.8L1217.3 2188.9L1210.0 2186.0L1203.1 2183.4L1196.7 2180.9L1191.0 2178.7L1186.2 2176.8L1182.3 2175.3Z" fill="url(#gG)" filter="url(#bl3)"/>
<path d="M1179.0 2184.0L1182.8 2185.5L1187.7 2187.3L1193.3 2189.5L1199.7 2192.0L1206.6 2194.7L1214.0 2197.5L1221.6 2200.5L1229.3 2203.5L1237.1 2206.4L1244.7 2209.3L1252.1 2212.0L1259.0 2214.6L1265.7 2217.0L1272.4 2219.4L1279.0 2221.8L1285.7 2224.2L1292.4 2226.5L1299.1 2228.8L1305.7 2231.1L1312.4 2233.4L1319.1 2235.7L1325.8 2237.9L1332.4 2240.1L1339.1 2242.3L1345.8 2244.4L1352.5 2246.6L1359.1 2248.7L1365.8 2250.8L1372.5 2252.8L1379.2 2254.9L1385.8 2256.9L1392.5 2258.9L1399.2 2260.9L1405.9 2262.8L1412.5 2264.7L1419.2 2266.6L1425.9 2268.5L1432.6 2270.3L1439.2 2272.1L1445.9 2273.9L1452.6 2275.7L1459.3 2277.4L1466.0 2279.1L1472.6 2280.8L1479.3 2282.4L1486.0 2284.0L1492.7 2285.6L1499.3 2287.2L1506.0 2288.7L1512.7 2290.2L1519.4 2291.7L1526.1 2293.1L1532.7 2294.5L1539.4 2295.9L1546.1 2297.3L1552.8 2298.6L1559.5 2299.9L1566.1 2301.2L1572.8 2302.4L1579.5 2303.6L1586.2 2304.8L1592.9 2305.9L1599.5 2307.0L1606.2 2308.1L1612.9 2309.1L1619.6 2310.1L1626.3 2311.1L1632.9 2312.1L1639.6 2313.0L1646.3 2313.9L1653.0 2314.7L1659.7 2315.5L1666.3 2316.3L1673.0 2317.0L1679.7 2317.8L1686.4 2318.4L1693.1 2319.1L1699.7 2319.7L1706.4 2320.3L1713.1 2320.8L1719.8 2321.3L1726.5 2321.8L1733.2 2322.2L1739.8 2322.6L1746.5 2323.0L1753.2 2323.3L1759.9 2323.6L1766.6 2323.9L1773.2 2324.1L1779.9 2324.3L1786.6 2324.4L1793.3 2324.5L1800.0 2324.6L1806.7 2324.6L1813.3 2324.6L1820.0 2324.6L1826.7 2324.5L1833.4 2324.4L1840.1 2324.2L1846.8 2324.0L1853.4 2323.8L1860.1 2323.5L1866.8 2323.2L1873.5 2322.9L1880.2 2322.5L1886.9 2322.1L1893.5 2321.6L1900.2 2321.1L1906.9 2320.6L1913.6 2320.0L1920.3 2319.4L1927.0 2318.7L1933.6 2318.0L1940.3 2317.2L1947.0 2316.5L1953.7 2315.6L1960.4 2314.8L1967.1 2313.9L1973.7 2312.9L1980.4 2311.9L1987.1 2310.9L1993.8 2309.8L2000.4 2308.3L2007.1 2307.2L2013.8 2306.0L2020.5 2304.7L2027.1 2303.4L2033.8 2302.1L2040.5 2300.7L2047.2 2299.3L2053.8 2297.9L2060.5 2296.4L2067.2 2294.8L2073.9 2293.2L2080.6 2291.6L2087.2 2289.9L2093.9 2288.2L2100.6 2286.5L2107.3 2284.7L2113.9 2282.8L2120.6 2280.9L2127.3 2279.0L2134.0 2277.0L2140.6 2275.0L2147.3 2272.9L2154.0 2270.8L2160.7 2268.7L2167.3 2266.5L2174.0 2264.2L2180.7 2262.0L2187.4 2259.6L2194.0 2257.3L2200.7 2254.8L2207.4 2252.4L2214.1 2249.9L2220.7 2247.3L2227.4 2244.7L2234.1 2242.1L2240.8 2239.4L2247.4 2236.7L2254.1 2233.9L2260.8 2231.1L2267.4 2228.2L2274.1 2225.3L2280.8 2222.3L2287.5 2219.3L2294.1 2216.3L2300.8 2213.2L2307.5 2210.0L2314.1 2206.8L2320.8 2203.6L2327.5 2200.3L2334.2 2197.0L2340.8 2193.6L2347.5 2190.2L2354.2 2186.8L2360.8 2183.2L2367.5 2179.7L2374.2 2176.1L2380.8 2172.4L2387.5 2168.7L2394.2 2165.0L2400.8 2161.2L2407.5 2157.3L2414.2 2153.5L2420.9 2149.5L2427.5 2145.5L2434.2 2141.5L2440.9 2137.4L2447.5 2133.3L2454.2 2129.1L2460.9 2124.9L2467.7 2120.5L2474.9 2115.8L2482.2 2110.9L2489.7 2105.9L2497.1 2100.8L2504.5 2095.8L2511.6 2090.9L2518.5 2086.2L2524.9 2081.7L2530.9 2077.5L2536.2 2073.8L2540.8 2070.6L2544.8 2067.9L2548.1 2065.5L2550.9 2063.5L2553.3 2061.8L2555.2 2060.4L2556.9 2059.1L2558.2 2058.1L2559.3 2057.2L2560.3 2056.5L2561.1 2055.8L2562.0 2055.1L2562.8 2054.5L2561.2 2052.2L2560.3 2052.9L2559.4 2053.6L2558.5 2054.3L2557.6 2055.0L2556.5 2055.9L2555.1 2056.9L2553.5 2058.1L2551.6 2059.5L2549.3 2061.2L2546.5 2063.2L2543.1 2065.6L2539.2 2068.3L2534.5 2071.5L2529.2 2075.2L2523.2 2079.3L2516.8 2083.7L2509.9 2088.4L2502.8 2093.3L2495.4 2098.3L2488.0 2103.4L2480.5 2108.3L2473.1 2113.2L2466.0 2117.9L2459.1 2122.2L2452.5 2126.4L2445.8 2130.6L2439.1 2134.7L2432.5 2138.7L2425.8 2142.7L2419.1 2146.6L2412.5 2150.5L2405.8 2154.4L2399.2 2158.2L2392.5 2162.0L2385.8 2165.7L2379.2 2169.3L2372.5 2173.0L2365.8 2176.5L2359.2 2180.1L2352.5 2183.5L2345.8 2187.0L2339.2 2190.4L2332.5 2193.7L2325.8 2197.0L2319.2 2200.2L2312.5 2203.5L2305.9 2206.6L2299.2 2209.7L2292.5 2212.8L2285.9 2215.8L2279.2 2218.8L2272.5 2221.7L2265.9 2224.6L2259.2 2227.4L2252.6 2230.2L2245.9 2232.9L2239.2 2235.6L2232.6 2238.3L2225.9 2240.9L2219.3 2243.5L2212.6 2246.0L2205.9 2248.5L2199.3 2250.9L2192.6 2253.3L2186.0 2255.6L2179.3 2257.9L2172.6 2260.2L2166.0 2262.4L2159.3 2264.5L2152.7 2266.6L2146.0 2268.7L2139.4 2270.7L2132.7 2272.7L2126.0 2274.7L2119.4 2276.6L2112.7 2278.4L2106.1 2280.2L2099.4 2282.0L2092.8 2283.7L2086.1 2285.4L2079.4 2287.0L2072.8 2288.6L2066.1 2290.2L2059.5 2291.7L2052.8 2293.2L2046.2 2294.6L2039.5 2296.0L2032.9 2297.3L2026.2 2298.6L2019.5 2299.9L2012.9 2301.1L2006.2 2302.3L1999.6 2303.4L1992.9 2304.1L1986.2 2305.2L1979.6 2306.2L1972.9 2307.2L1966.3 2308.1L1959.6 2309.0L1953.0 2309.9L1946.3 2310.7L1939.7 2311.5L1933.0 2312.2L1926.4 2312.9L1919.7 2313.6L1913.1 2314.2L1906.4 2314.8L1899.8 2315.3L1893.1 2315.8L1886.5 2316.3L1879.8 2316.7L1873.2 2317.1L1866.5 2317.4L1859.9 2317.7L1853.2 2318.0L1846.6 2318.2L1839.9 2318.4L1833.3 2318.6L1826.6 2318.7L1820.0 2318.8L1813.3 2318.8L1806.7 2318.8L1800.0 2318.8L1793.4 2318.7L1786.7 2318.6L1780.1 2318.5L1773.4 2318.3L1766.8 2318.1L1760.1 2317.8L1753.5 2317.5L1746.8 2317.2L1740.2 2316.8L1733.5 2316.4L1726.9 2316.0L1720.2 2315.5L1713.6 2315.0L1706.9 2314.5L1700.3 2313.9L1693.6 2313.3L1687.0 2312.7L1680.3 2312.0L1673.6 2311.3L1667.0 2310.5L1660.3 2309.8L1653.7 2309.0L1647.0 2308.1L1640.4 2307.2L1633.7 2306.3L1627.1 2305.4L1620.4 2304.4L1613.8 2303.4L1607.1 2302.4L1600.5 2301.3L1593.8 2300.2L1587.2 2299.1L1580.5 2297.9L1573.9 2296.7L1567.2 2295.5L1560.5 2294.2L1553.9 2292.9L1547.2 2291.6L1540.6 2290.2L1533.9 2288.9L1527.3 2287.5L1520.6 2286.0L1514.0 2284.5L1507.3 2283.1L1500.7 2281.5L1494.0 2280.0L1487.3 2278.4L1480.7 2276.8L1474.0 2275.1L1467.4 2273.5L1460.7 2271.8L1454.1 2270.0L1447.4 2268.3L1440.8 2266.5L1434.1 2264.7L1427.4 2262.9L1420.8 2261.0L1414.1 2259.1L1407.5 2257.2L1400.8 2255.3L1394.2 2253.3L1387.5 2251.4L1380.8 2249.3L1374.2 2247.3L1367.5 2245.2L1360.9 2243.2L1354.2 2241.0L1347.6 2238.9L1340.9 2236.8L1334.2 2234.6L1327.6 2232.4L1320.9 2230.2L1314.3 2227.9L1307.6 2225.6L1300.9 2223.4L1294.3 2221.0L1287.6 2218.7L1281.0 2216.3L1274.3 2214.0L1267.7 2211.6L1261.0 2209.1L1254.1 2206.6L1246.8 2203.9L1239.2 2201.0L1231.4 2198.0L1223.7 2195.1L1216.0 2192.1L1208.7 2189.3L1201.8 2186.6L1195.4 2184.1L1189.8 2181.9L1184.9 2180.1L1181.0 2178.6Z" fill="url(#gL2)"/>
<rect x="0" y="2318" width="2560" height="2" fill="#fff"/>
</g>

<g stroke="#999999" stroke-width="4.2" fill="none">
<path d="M1305.1 240V330M1305.1 470V540M1305.1 680V876"/>
<path d="M411.4 936V876.4H2156V930" stroke-width="4.6"/>
<path d="M994 876V936M1598 876V936"/>
<path d="M408 1100V1180M994 1100V1190M1598 1100V1193M2149 1095V1190"/>
<path d="M664 728H1862" stroke-width="4.1" stroke-dasharray="10 4.25" stroke-dashoffset="9"/>
</g>
<rect x="1047.5" y="99" width="504.7" height="150.7" rx="24.5" fill="#FF1E00" filter="url(#sh1)"/>
<rect x="1047.5" y="321.3" width="504.7" height="150.5" rx="24.5" fill="#FF1E00" filter="url(#sh1)"/>
<rect x="1042" y="537" width="504" height="150" rx="25" fill="#69A72E"/>
<rect x="160" y="653" width="504" height="150" rx="24" fill="#954476"/>
<rect x="1862" y="671" width="505" height="150" rx="24" fill="#954476"/>
<rect x="223" y="934" width="346" height="170" rx="26" fill="#047BC6"/>
<rect x="816" y="934" width="347" height="170" rx="26" fill="#047BC6"/>
<rect x="1420" y="934" width="346" height="170" rx="26" fill="#047BC6"/>
<rect x="1882" y="928" width="547" height="170" rx="32" ry="26" fill="#047BC6"/>
<rect x="145.5" y="1179" width="489.5" height="786.5" rx="26.5" ry="35" fill="#E57718" filter="url(#sh2)"/>
<rect x="668" y="1187.8" width="690" height="1023.4" rx="26" ry="28.5" fill="#E57718"/>
<rect x="1384" y="1191" width="475.6" height="548" rx="26.5" ry="45" fill="#E57718"/>
<rect x="1883" y="1188" width="583" height="753" rx="25" fill="#E57718"/>
<text x="1188.0" y="191.0" font-size="50" textLength="239.2" lengthAdjust="spacingAndGlyphs" font-weight="700" stroke="#fff" stroke-width="1.5" stroke-linejoin="round">ĐẢNG BỘ</text>
<text x="1062.0" y="420.0" font-size="51.5" textLength="478.1" lengthAdjust="spacingAndGlyphs" font-weight="700" stroke="#fff" stroke-width="1.5" stroke-linejoin="round">HỘI ĐỒNG TRƯỜNG</text>
<text x="1109.5" y="639.3" font-size="51.5" textLength="373.5" lengthAdjust="spacingAndGlyphs" font-weight="700" stroke="#fff" stroke-width="1.5" stroke-linejoin="round">BAN GIÁM HIỆU</text>
<text x="297.5" y="714.6" font-size="42.5" textLength="220.2" lengthAdjust="spacingAndGlyphs" font-weight="700" stroke="#fff" stroke-width="1.5" stroke-linejoin="round">HỘI ĐỒNG</text>
<text x="179.0" y="773.3" font-size="42.5" textLength="477.9" lengthAdjust="spacingAndGlyphs" font-weight="700" stroke="#fff" stroke-width="1.5" stroke-linejoin="round">KHOA HỌC &amp; ĐÀO TẠO</text>
<text x="1996.0" y="732.0" font-size="42" textLength="271.0" lengthAdjust="spacingAndGlyphs" font-weight="700" stroke="#fff" stroke-width="1.5" stroke-linejoin="round">CÔNG ĐOÀN</text>
<text x="1932.0" y="790.8" font-size="42" textLength="383.0" lengthAdjust="spacingAndGlyphs" font-weight="700" stroke="#fff" stroke-width="1.5" stroke-linejoin="round">ĐOÀN THANH NIÊN</text>
<text x="316.0" y="1008.4" font-size="43" textLength="156.0" lengthAdjust="spacingAndGlyphs" font-weight="700" stroke="#fff" stroke-width="1.5" stroke-linejoin="round">PHÒNG</text>
<text x="261.3" y="1066.4" font-size="43" textLength="264.0" lengthAdjust="spacingAndGlyphs" font-weight="700" stroke="#fff" stroke-width="1.5" stroke-linejoin="round">CHỨC NĂNG</text>
<text x="932.8" y="1034.6" font-size="44" textLength="123.9" lengthAdjust="spacingAndGlyphs" font-weight="700" stroke="#fff" stroke-width="1.5" stroke-linejoin="round">KHOA</text>
<text x="1555.1" y="1034.6" font-size="44" textLength="91.7" lengthAdjust="spacingAndGlyphs" font-weight="700" stroke="#fff" stroke-width="1.5" stroke-linejoin="round">VIỆN</text>
<text x="1896.5" y="1010.6" font-size="40.5" textLength="523.4" lengthAdjust="spacingAndGlyphs" font-weight="700" stroke="#fff" stroke-width="1.5" stroke-linejoin="round">TRUNG TÂM &amp; CÁC ĐƠN VỊ</text>
<text x="1961.3" y="1054.7" font-size="40.5" textLength="344.7" lengthAdjust="spacingAndGlyphs" font-weight="700" stroke="#fff" stroke-width="1.5" stroke-linejoin="round">HỖ TRỢ ĐÀO TẠO</text>
<text x="170.6" y="1245.8" font-size="38" textLength="359.5" lengthAdjust="spacingAndGlyphs" stroke="#fff" stroke-width="0.45" word-spacing="-2.6">1. VP Hội đồng trường</text>
<text x="167.2" y="1304.0" font-size="38" textLength="443.6" lengthAdjust="spacingAndGlyphs" stroke="#fff" stroke-width="0.45" word-spacing="-2.6">2. Phòng Hành chính - Tổ chức</text>
<text x="167.2" y="1361.0" font-size="38" textLength="280.0" lengthAdjust="spacingAndGlyphs" stroke="#fff" stroke-width="0.45" word-spacing="-2.6">3. Phòng Đào tạo</text>
<text x="167.6" y="1416.7" font-size="38" textLength="451.0" lengthAdjust="spacingAndGlyphs" stroke="#fff" stroke-width="0.45" word-spacing="-2.6">4. Phòng Công tác sinh viên</text>
<text x="167.2" y="1478.6" font-size="38" textLength="278.0" lengthAdjust="spacingAndGlyphs" stroke="#fff" stroke-width="0.45" word-spacing="-2.6">5. Phòng Khảo thí</text>
<text x="207.1" y="1535.6" font-size="38" textLength="331.5" lengthAdjust="spacingAndGlyphs" stroke="#fff" stroke-width="0.45" word-spacing="-2.6">&amp; Quản lý chất lượng</text>
<text x="166.6" y="1591.7" font-size="38" textLength="437.4" lengthAdjust="spacingAndGlyphs" stroke="#fff" stroke-width="0.45" word-spacing="-2.6">6. Phòng Kế hoạch - Tài chính</text>
<text x="167.2" y="1647.8" font-size="38" textLength="329.1" lengthAdjust="spacingAndGlyphs" stroke="#fff" stroke-width="0.45" word-spacing="-2.6">7. Phòng Tuyển sinh</text>
<text x="203.4" y="1702.5" font-size="38" textLength="253.5" lengthAdjust="spacingAndGlyphs" stroke="#fff" stroke-width="0.45" word-spacing="-2.6">&amp; Truyền thông</text>
<text x="166.6" y="1753.0" font-size="38" textLength="438.5" lengthAdjust="spacingAndGlyphs" stroke="#fff" stroke-width="0.45" word-spacing="-2.6">8. Phòng Quản lý Khoa học</text>
<text x="166.6" y="1805.0" font-size="38" textLength="440.3" lengthAdjust="spacingAndGlyphs" stroke="#fff" stroke-width="0.45" word-spacing="-2.6">- Hợp tác Quốc tế và Xuất bản</text>
<text x="166.6" y="1856.7" font-size="38" textLength="408.3" lengthAdjust="spacingAndGlyphs" stroke="#fff" stroke-width="0.45" word-spacing="-2.6">9. Phòng Quản trị thiết bị và</text>
<text x="201.0" y="1909.4" font-size="38" textLength="257.0" lengthAdjust="spacingAndGlyphs" stroke="#fff" stroke-width="0.45" word-spacing="-2.6">thực hành Y khoa</text>
<text x="687.6" y="1262.4" font-size="37.5" textLength="153.5" lengthAdjust="spacingAndGlyphs" stroke="#fff" stroke-width="0.45" word-spacing="-2.6">1. Khoa Y</text>
<text x="688.0" y="1317.8" font-size="37.5" textLength="214.2" lengthAdjust="spacingAndGlyphs" stroke="#fff" stroke-width="0.45" word-spacing="-2.6">2. Khoa Dược</text>
<text x="688.0" y="1374.6" font-size="37.5" textLength="389.5" lengthAdjust="spacingAndGlyphs" stroke="#fff" stroke-width="0.45" word-spacing="-2.6">3. Khoa Y học cổ truyền</text>
<text x="689.0" y="1430.0" font-size="37.5" textLength="475.5" lengthAdjust="spacingAndGlyphs" stroke="#fff" stroke-width="0.45" word-spacing="-2.6">4. Khoa Kinh doanh và Logistics</text>
<text x="688.0" y="1486.9" font-size="37.5" textLength="565.0" lengthAdjust="spacingAndGlyphs" stroke="#fff" stroke-width="0.45" word-spacing="-2.6">5. Khoa Kinh tế và Khoa học cơ bản</text>
<text x="690.2" y="1541.0" font-size="37.5" textLength="204.6" lengthAdjust="spacingAndGlyphs" stroke="#fff" stroke-width="0.45" word-spacing="-2.6">6. Khoa Luật</text>
<text x="688.6" y="1604.6" font-size="37.5" textLength="626.3" lengthAdjust="spacingAndGlyphs" stroke="#fff" stroke-width="0.45" word-spacing="-2.6">7. Khoa Tài chính ngân hàng - Kế toán</text>
<text x="688.0" y="1660.7" font-size="37.5" textLength="248.1" lengthAdjust="spacingAndGlyphs" stroke="#fff" stroke-width="0.45" word-spacing="-2.6">8. Khoa Du lịch</text>
<text x="688.0" y="1710.0" font-size="37.5" textLength="517.1" lengthAdjust="spacingAndGlyphs" stroke="#fff" stroke-width="0.45" word-spacing="-2.6">9. Khoa Truyền thông và Thiết kế</text>
<text x="688.2" y="1761.4" font-size="37.5" textLength="544.8" lengthAdjust="spacingAndGlyphs" stroke="#fff" stroke-width="0.45" word-spacing="-2.6">10. Khoa Công nghệ thông tin và</text>
<text x="688.0" y="1810.3" font-size="37.5" textLength="313.1" lengthAdjust="spacingAndGlyphs" stroke="#fff" stroke-width="0.45" word-spacing="-2.6">Điện tử viễn thông</text>
<text x="688.2" y="1861.0" font-size="37.5" textLength="604.8" lengthAdjust="spacingAndGlyphs" stroke="#fff" stroke-width="0.45" word-spacing="-2.6">11. Khoa Công nghệ và Kỹ thuật ô tô</text>
<text x="688.2" y="1911.7" font-size="37.5" textLength="323.4" lengthAdjust="spacingAndGlyphs" stroke="#fff" stroke-width="0.45" word-spacing="-2.6">12. Khoa Tiếng Anh</text>
<text x="688.2" y="1961.3" font-size="37.5" textLength="451.4" lengthAdjust="spacingAndGlyphs" stroke="#fff" stroke-width="0.45" word-spacing="-2.6">13. Khoa Tiếng Trung Quốc</text>
<text x="688.2" y="2012.0" font-size="37.5" textLength="348.1" lengthAdjust="spacingAndGlyphs" stroke="#fff" stroke-width="0.45" word-spacing="-2.6">14. Khoa Sau Đại học</text>
<text x="688.2" y="2062.0" font-size="37.5" textLength="355.0" lengthAdjust="spacingAndGlyphs" stroke="#fff" stroke-width="0.45" word-spacing="-2.6">15. Khoa Điều Dưỡng</text>
<text x="688.2" y="2112.6" font-size="37.5" textLength="416.9" lengthAdjust="spacingAndGlyphs" stroke="#fff" stroke-width="0.45" word-spacing="-2.6">16. Khoa Khoa học Y sinh</text>
<text x="688.2" y="2162.6" font-size="37.5" textLength="401.9" lengthAdjust="spacingAndGlyphs" stroke="#fff" stroke-width="0.45" word-spacing="-2.6">17. Khoa Y tế công cộng</text>
<text x="1395.6" y="1261.0" font-size="36.5" textLength="431.3" lengthAdjust="spacingAndGlyphs" stroke="#fff" stroke-width="0.45" word-spacing="-2.6">1. Viện Khoa học Sự sống và</text>
<text x="1395.0" y="1308.0" font-size="36.5" textLength="159.1" lengthAdjust="spacingAndGlyphs" stroke="#fff" stroke-width="0.45" word-spacing="-2.6">Ứng dụng</text>
<text x="1396.0" y="1356.7" font-size="36.5" textLength="407.0" lengthAdjust="spacingAndGlyphs" stroke="#fff" stroke-width="0.45" word-spacing="-2.6">2. Viện Khởi nghiệp và Đổi</text>
<text x="1395.0" y="1405.0" font-size="36.5" textLength="261.5" lengthAdjust="spacingAndGlyphs" stroke="#fff" stroke-width="0.45" word-spacing="-2.6">mới sáng tạo Mở</text>
<text x="1396.0" y="1452.6" font-size="36.5" textLength="452.0" lengthAdjust="spacingAndGlyphs" stroke="#fff" stroke-width="0.45" word-spacing="-2.6">3. Viện Ngân hàng - Tài chính</text>
<text x="1396.0" y="1500.4" font-size="36.5" textLength="404.0" lengthAdjust="spacingAndGlyphs" stroke="#fff" stroke-width="0.45" word-spacing="-2.6">và Công nghệ cao Victoria</text>
<text x="1396.0" y="1548.0" font-size="36.5" textLength="406.0" lengthAdjust="spacingAndGlyphs" stroke="#fff" stroke-width="0.45" word-spacing="-2.6">4. Viện Nghiên cứu và ứng</text>
<text x="1396.0" y="1596.4" font-size="36.5" textLength="341.0" lengthAdjust="spacingAndGlyphs" stroke="#fff" stroke-width="0.45" word-spacing="-2.6">dụng công nghệ AI và</text>
<text x="1395.6" y="1644.0" font-size="36.5" textLength="279.4" lengthAdjust="spacingAndGlyphs" stroke="#fff" stroke-width="0.45" word-spacing="-2.6">Blockchain Galaxy</text>
<text x="1899.2" y="1260.7" font-size="37" textLength="533.8" lengthAdjust="spacingAndGlyphs" stroke="#fff" stroke-width="0.45" word-spacing="-2.6">1. Trung tâm Ngoại ngữ - Tin học</text>
<text x="1899.0" y="1316.7" font-size="37" textLength="337.0" lengthAdjust="spacingAndGlyphs" stroke="#fff" stroke-width="0.45" word-spacing="-2.6">2. Trung tâm Du lịch</text>
<text x="1899.0" y="1365.0" font-size="37" textLength="306.9" lengthAdjust="spacingAndGlyphs" stroke="#fff" stroke-width="0.45" word-spacing="-2.6">- Đại học Hòa Bình</text>
<text x="1899.0" y="1417.0" font-size="37" textLength="432.6" lengthAdjust="spacingAndGlyphs" stroke="#fff" stroke-width="0.45" word-spacing="-2.6">3. Trung tâm đào tạo theo</text>
<text x="1900.0" y="1464.3" font-size="37" textLength="457.0" lengthAdjust="spacingAndGlyphs" stroke="#fff" stroke-width="0.45" word-spacing="-2.6">yêu cầu xã hội và phát triển</text>
<text x="1898.0" y="1512.4" font-size="37" textLength="216.3" lengthAdjust="spacingAndGlyphs" stroke="#fff" stroke-width="0.45" word-spacing="-2.6">nghề nghiệp</text>
<text x="1900.0" y="1567.0" font-size="37" textLength="180.2" lengthAdjust="spacingAndGlyphs" stroke="#fff" stroke-width="0.45" word-spacing="-2.6">4. Thư viện</text>
<text x="1899.0" y="1624.0" font-size="37" textLength="195.0" lengthAdjust="spacingAndGlyphs" stroke="#fff" stroke-width="0.45" word-spacing="-2.6">5. Trạm Y tế</text>
<text x="1899.0" y="1678.0" font-size="37" textLength="541.0" lengthAdjust="spacingAndGlyphs" stroke="#fff" stroke-width="0.45" word-spacing="-2.6">6. Văn phòng đại diện tại Thanh Hóa</text>
<text x="1900.2" y="1726.0" font-size="37" textLength="541.4" lengthAdjust="spacingAndGlyphs" stroke="#fff" stroke-width="0.45" word-spacing="-2.6">7. Văn phòng đại diện tại TP.HCM</text>
</svg></body></html>
